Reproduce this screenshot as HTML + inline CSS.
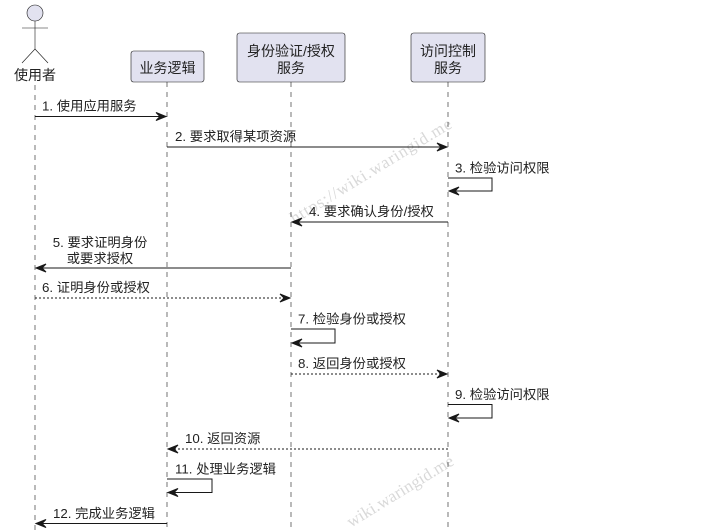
<!DOCTYPE html>
<html>
<head>
<meta charset="utf-8">
<style>
  html, body { margin: 0; padding: 0; background: #ffffff; width: 707px; height: 531px; overflow: hidden; }
  svg { display: block; overflow: hidden; }
  text { font-family: "Liberation Sans", "DejaVu Sans", "Noto Sans CJK SC", sans-serif; }
</style>
</head>
<body>
<svg width="707" height="531" viewBox="0 0 707 531" xmlns="http://www.w3.org/2000/svg">
  <rect width="707" height="531" fill="#ffffff"/>

  <!-- watermark -->
  <g fill="#d9d9d9" font-size="17">
    <text x="0" y="0" text-anchor="end" textLength="186" lengthAdjust="spacing" transform="translate(453,127) rotate(-31.5)" style="font-family:'Liberation Serif',serif">https://wiki.waringid.me</text>
    <text x="0" y="0" text-anchor="end" textLength="122" lengthAdjust="spacing" transform="translate(455,464) rotate(-31.5)" style="font-family:'Liberation Serif',serif">wiki.waringid.me</text>
  </g>

  <!-- lifelines -->
  <g stroke="#181818" stroke-width="0.6" stroke-dasharray="5,5" fill="none">
    <line x1="35" y1="85" x2="35" y2="530"/>
    <line x1="167" y1="82" x2="167" y2="530"/>
    <line x1="291" y1="82" x2="291" y2="530"/>
    <line x1="448" y1="82" x2="448" y2="530"/>
  </g>

  <!-- actor -->
  <g stroke="#181818" stroke-width="0.6" fill="none">
    <circle cx="35" cy="13" r="8" fill="#E2E2F0"/>
    <line x1="35" y1="21" x2="35" y2="49"/>
    <line x1="22" y1="28" x2="48" y2="28"/>
    <line x1="35" y1="49" x2="22" y2="63"/>
    <line x1="35" y1="49" x2="48" y2="63"/>
  </g>
  <text x="35" y="80" text-anchor="middle" font-size="14" fill="#222">使用者</text>

  <!-- participants -->
  <g stroke="#181818" stroke-width="0.6" fill="#E2E2F0">
    <rect x="131" y="51" width="73" height="31" rx="2.5"/>
    <rect x="237" y="33" width="108" height="49" rx="2.5"/>
    <rect x="411" y="33" width="74" height="49" rx="2.5"/>
  </g>
  <g font-size="14" fill="#222" text-anchor="middle">
    <text x="167.5" y="73">业务逻辑</text>
    <text x="291" y="56">身份验证/授权</text>
    <text x="291" y="73">服务</text>
    <text x="448" y="56">访问控制</text>
    <text x="448" y="73">服务</text>
  </g>

  <!-- messages -->
  <g stroke="#181818" stroke-width="1" fill="none">
    <line x1="35" y1="116.5" x2="164" y2="116.5"/>
    <line x1="167" y1="147" x2="445" y2="147"/>
    <polyline points="448,178 492,178 492,191 451,191"/>
    <line x1="448" y1="222" x2="294" y2="222"/>
    <line x1="291" y1="268" x2="38" y2="268"/>
    <line x1="35" y1="298" x2="288" y2="298" stroke-dasharray="2,2"/>
    <polyline points="291,329 335,329 335,343 294,343"/>
    <line x1="291" y1="374" x2="445" y2="374" stroke-dasharray="2,2"/>
    <polyline points="448,404.5 492,404.5 492,418 451,418"/>
    <line x1="448" y1="449" x2="170" y2="449" stroke-dasharray="2,2"/>
    <polyline points="167,479 212,479 212,492.5 170,492.5"/>
    <line x1="167" y1="523.5" x2="38" y2="523.5"/>
  </g>

  <!-- arrowheads -->
  <g fill="#181818" stroke="#181818" stroke-width="1">
    <polygon points="156,112.5 166,116.5 156,120.5 160,116.5"/>
    <polygon points="437,143 447,147 437,151 441,147"/>
    <polygon points="280,294 290,298 280,302 284,298"/>
    <polygon points="437,370 447,374 437,378 441,374"/>
    <polygon points="459,187 449,191 459,195 455,191"/>
    <polygon points="302,218 292,222 302,226 298,222"/>
    <polygon points="46,264 36,268 46,272 42,268"/>
    <polygon points="302,339 292,343 302,347 298,343"/>
    <polygon points="459,414 449,418 459,422 455,418"/>
    <polygon points="178,445 168,449 178,453 174,449"/>
    <polygon points="178,488.5 168,492.5 178,496.5 174,492.5"/>
    <polygon points="46,519.5 36,523.5 46,527.5 42,523.5"/>
  </g>

  <!-- message labels -->
  <g font-size="13.3" fill="#222">
    <text x="42" y="110.5">1. 使用应用服务</text>
    <text x="175" y="141">2. 要求取得某项资源</text>
    <text x="455" y="172.5">3. 检验访问权限</text>
    <text x="309" y="216">4. 要求确认身份/授权</text>
    <text x="100" y="247" text-anchor="middle">5. 要求证明身份</text>
    <text x="100" y="263" text-anchor="middle">或要求授权</text>
    <text x="42" y="292">6. 证明身份或授权</text>
    <text x="298" y="323.5">7. 检验身份或授权</text>
    <text x="298" y="368">8. 返回身份或授权</text>
    <text x="455" y="399">9. 检验访问权限</text>
    <text x="185" y="443">10. 返回资源</text>
    <text x="175" y="473.5">11. 处理业务逻辑</text>
    <text x="53" y="518">12. 完成业务逻辑</text>
  </g>
</svg>
</body>
</html>
